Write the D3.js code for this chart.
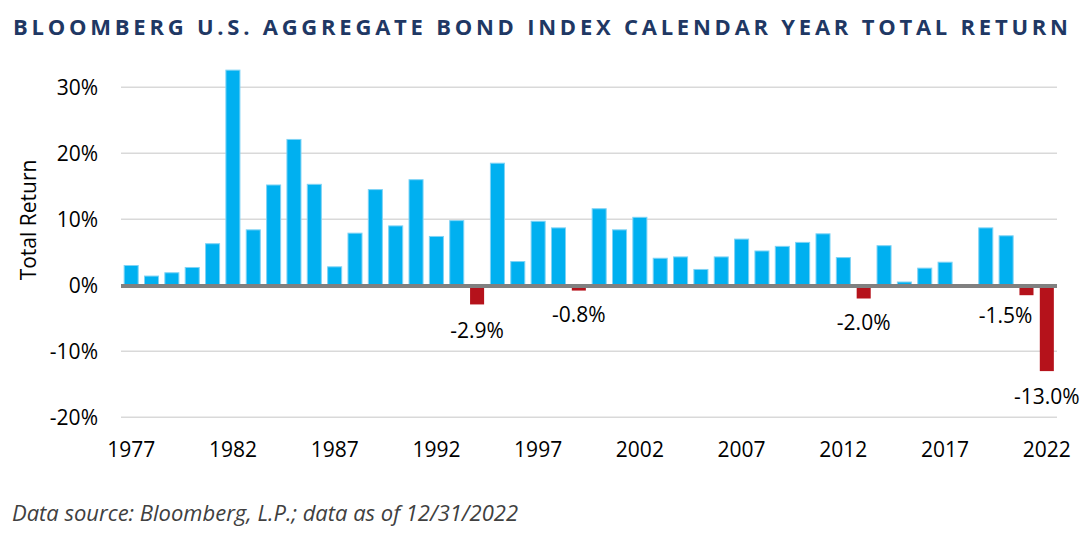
<!DOCTYPE html>
<html>
<head>
<meta charset="utf-8">
<script src="https://cdn.jsdelivr.net/npm/d3@7"></script>
<style>
  html, body { margin: 0; padding: 0; background: #fff; }
  svg { display: block; }
</style>
</head>
<body>
<svg id="chart" width="1091" height="536"></svg>
<script>
// ---- data ----
const years = d3.range(1977, 2023).map(String);
const returns = [
  3.0, 1.4, 1.9, 2.7, 6.3, 32.6, 8.4, 15.2, 22.1, 15.3,
  2.8, 7.9, 14.5, 9.0, 16.0, 7.4, 9.8, -2.9, 18.5, 3.6,
  9.7, 8.7, -0.8, 11.6, 8.4, 10.3, 4.1, 4.3, 2.4, 4.3,
  7.0, 5.2, 5.9, 6.5, 7.8, 4.2, -2.0, 6.0, 0.5, 2.6,
  3.5, 0.0, 8.7, 7.5, -1.5, -13.0
];
const yTicks = [-20, -10, 0, 10, 20, 30];
const xTickLabels = ["1977", "1982", "1987", "1992", "1997", "2002", "2007", "2012", "2017", "2022"];
const labelledYears = ["1994", "1999", "2013", "2021", "2022"];

const titleText = "BLOOMBERG U.S. AGGREGATE BOND INDEX CALENDAR YEAR TOTAL RETURN";
const yTitle = "Total Return";
const sourceText = "Data source: Bloomberg, L.P.; data as of 12/31/2022";

// ---- layout ----
const svg = d3.select("#chart");
const plotLeft = 121, plotRight = 1057, plotTop = 87.3, plotBottom = 417.3;
const font = "'Open Sans', 'Noto Sans', sans-serif";

const x = d3.scaleBand().domain(years).range([plotLeft, plotRight]).paddingInner(0.31).paddingOuter(0.155);
const y = d3.scaleLinear().domain([-20, 30]).range([plotBottom, plotTop]);

// title
svg.append("text")
  .attr("x", 13).attr("y", 35)
  .attr("textLength", 1055).attr("lengthAdjust", "spacing")
  .style("font-family", font).style("font-weight", 700).style("font-size", "22px")
  .attr("fill", "#1F3864")
  .text(titleText);

// gridlines
svg.append("g").selectAll("line")
  .data(yTicks.filter(d => d !== 0))
  .join("line")
  .attr("x1", plotLeft).attr("x2", plotRight)
  .attr("y1", d => y(d)).attr("y2", d => y(d))
  .attr("stroke", "#D9D9D9").attr("stroke-width", 1.5);

// y axis labels
const yAxis = d3.axisLeft(y).tickValues(yTicks).tickFormat(d => d + "%").tickSize(0).tickPadding(0);
const gy = svg.append("g").attr("transform", `translate(${plotLeft - 23},0)`).call(yAxis);
gy.select(".domain").remove();
gy.selectAll("text")
  .style("font-family", font).style("font-size", "21px").attr("fill", "#000");

// bars
const data = years.map((yr, i) => ({ year: yr, value: returns[i] }));
svg.append("g").selectAll("rect")
  .data(data.filter(d => d.value !== 0))
  .join("rect")
  .attr("x", d => x(d.year))
  .attr("width", x.bandwidth())
  .attr("y", d => d.value > 0 ? y(d.value) : y(0))
  .attr("height", d => Math.abs(y(d.value) - y(0)))
  .attr("fill", d => d.value > 0 ? "#00B0F0" : "#B5121B")
  .attr("stroke", d => d.value > 0 ? "#7FD3F5" : "none")
  .attr("stroke-width", 1);

// zero line
svg.append("line")
  .attr("x1", plotLeft).attr("x2", plotRight)
  .attr("y1", y(0) + 0.7).attr("y2", y(0) + 0.7)
  .attr("stroke", "#808080").attr("stroke-width", 4);

// x axis labels
const xAxis = d3.axisBottom(x).tickValues(xTickLabels).tickSize(0).tickPadding(0);
const gx = svg.append("g").attr("transform", `translate(0,${plotBottom + 22})`).call(xAxis);
gx.select(".domain").remove();
gx.selectAll("text")
  .attr("dy", "0.85em")
  .style("font-family", font).style("font-size", "21px").attr("fill", "#000");

// data labels for negatives
const labelNudgeX = { "2021": -21 };
const labelNudgeY = { "2021": -6, "1999": -2, "2013": -2 };
const pct = v => v.toFixed(1) + "%";
svg.append("g").selectAll("text")
  .data(data.filter(d => labelledYears.includes(d.year)))
  .join("text")
  .attr("x", d => x(d.year) + x.bandwidth() / 2 + (labelNudgeX[d.year] || 0))
  .attr("y", d => y(d.value) + 26 + (labelNudgeY[d.year] || 0))
  .attr("dy", "0.35em")
  .attr("text-anchor", "middle")
  .style("font-family", font).style("font-size", "21px").attr("fill", "#000")
  .text(d => pct(d.value));

// y title
svg.append("text")
  .attr("transform", "translate(36,220) rotate(-90)")
  .attr("text-anchor", "middle")
  .style("font-family", font).style("font-size", "21px").attr("fill", "#000")
  .text(yTitle);

// source
svg.append("text")
  .attr("x", 12).attr("y", 521)
  .attr("textLength", 506).attr("lengthAdjust", "spacingAndGlyphs")
  .style("font-family", font).style("font-style", "italic").style("font-size", "21px")
  .attr("fill", "#404040")
  .text(sourceText);
</script>
</body>
</html>
